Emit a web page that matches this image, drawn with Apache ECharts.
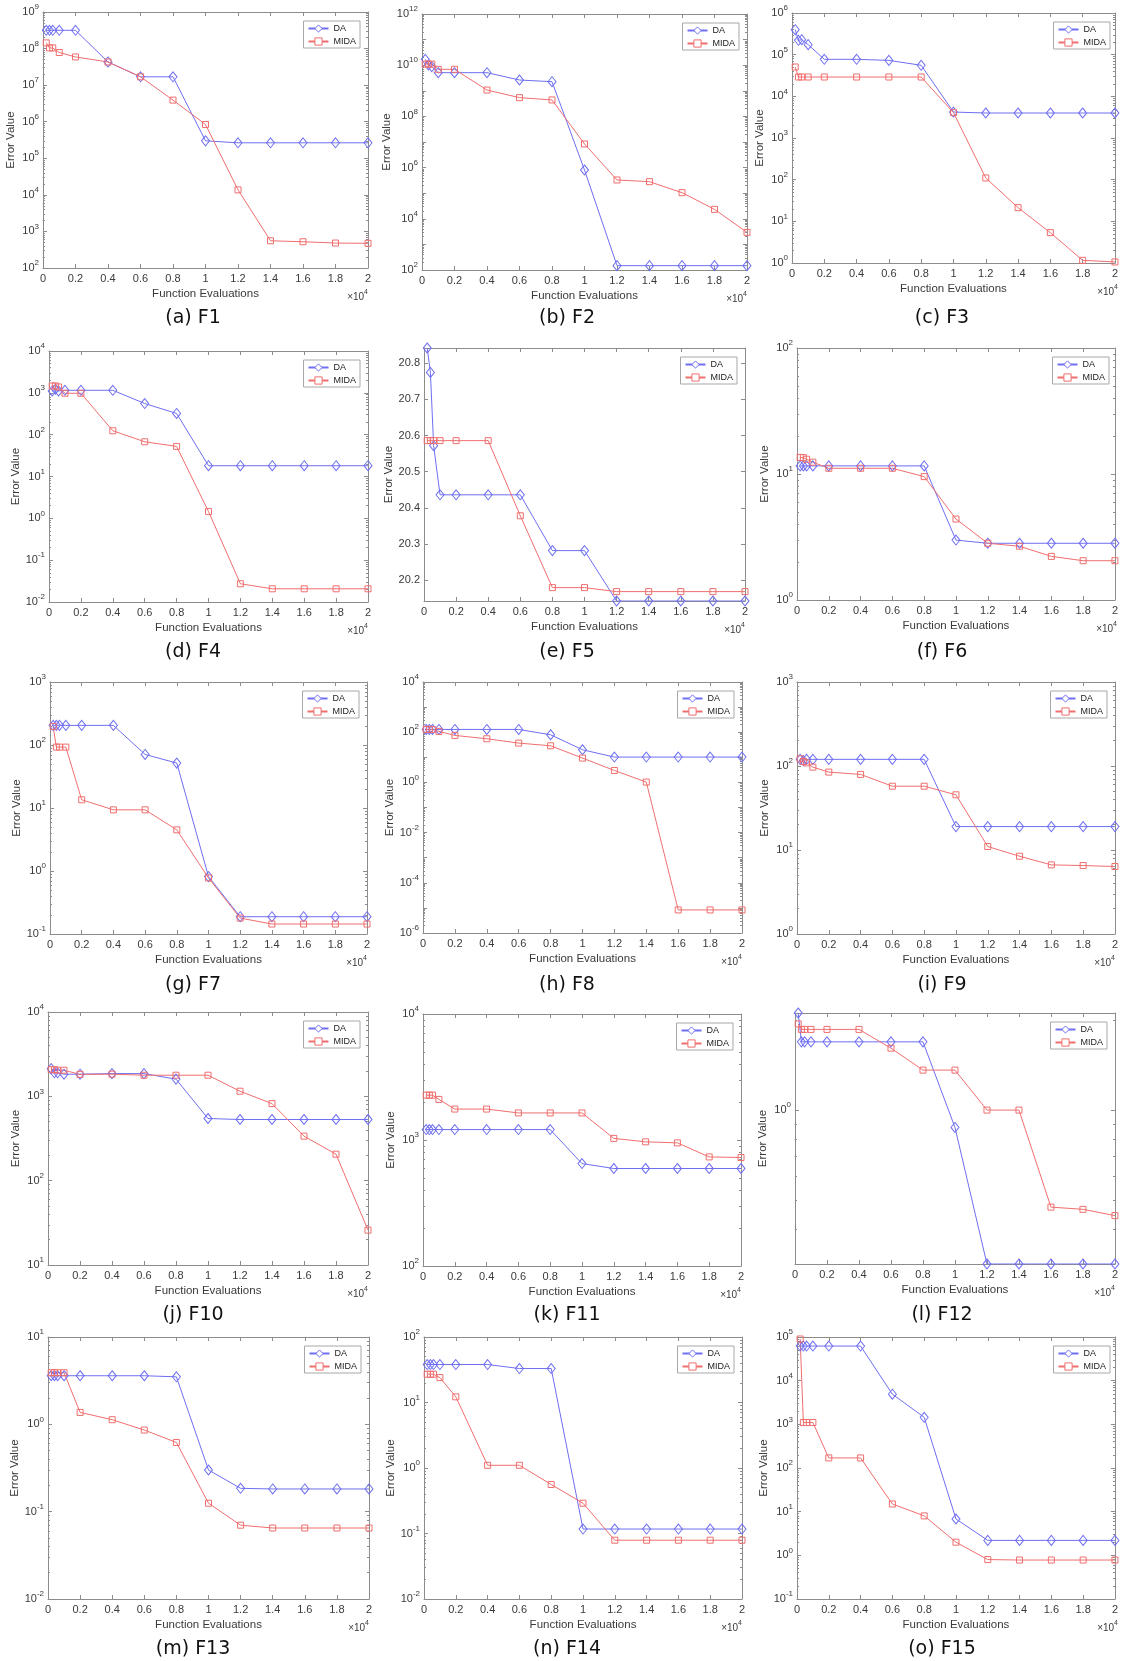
<!DOCTYPE html>
<html><head><meta charset="utf-8">
<script src="https://cdn.jsdelivr.net/npm/echarts@6/dist/echarts.min.js"></script>
<style>html,body{margin:0;padding:0;background:#fff}#c{width:1121px;height:1661px}</style>
</head><body><div id="c"></div>
<script>
// ---------------- data ----------------
const evaluations = [200,400,600,1000,2000,4000,6000,8000,10000,12000,14000,16000,18000,20000];
const seriesNames = ['DA','MIDA'];
const captions = ['(a) F1','(b) F2','(c) F3','(d) F4','(e) F5','(f) F6','(g) F7','(h) F8','(i) F9','(j) F10','(k) F11','(l) F12','(m) F13','(n) F14','(o) F15'];

const f1DA   = [3.16e8,3.16e8,3.16e8,3.16e8,3.16e8,4.3e7,1.69e7,1.69e7,3.0e5,2.65e5,2.65e5,2.65e5,2.65e5,2.65e5];
const f1MIDA = [1.43e8,1.04e8,1.04e8,7.8e7,5.9e7,4.3e7,1.69e7,3.9e6,8.4e5,1.37e4,556,522,481,473];
const f2DA   = [1.7e10,1.02e10,8.8e9,5.1e9,5.1e9,5.1e9,2.64e9,2.27e9,8.05e5,148,148,148,148,148];
const f2MIDA = [1.1e10,1.1e10,1.1e10,6.9e9,6.9e9,1.07e9,5.4e8,4.4e8,8.4e6,3.28e5,2.82e5,1.05e5,2.34e4,2.96e3];
const f3DA   = [3.98e5,2.21e5,2.29e5,1.74e5,7.73e4,7.73e4,7.3e4,5.55e4,4.2e3,3.98e3,3.98e3,3.98e3,3.98e3,3.98e3];
const f3MIDA = [5.06e4,2.91e4,2.91e4,2.91e4,2.91e4,2.91e4,2.91e4,2.91e4,4.06e3,110,21.3,5.35,1.16,1.06];
const f4DA   = [1110,1220,1110,1150,1150,1150,555,321,18.1,18.1,18.1,18.1,18.1,18.1];
const f4MIDA = [1460,1460,1380,977,977,124,67.6,52.4,1.45,0.0273,0.0207,0.0207,0.0207,0.0207];
const f5DA   = [20.8425,20.775,20.572,20.436,20.436,20.436,20.436,20.2815,20.2815,20.142,20.142,20.142,20.142,20.142];
const f5MIDA = [20.586,20.586,20.586,20.586,20.586,20.586,20.378,20.179,20.179,20.168,20.168,20.168,20.168,20.168];
const f6DA   = [11.6,11.6,11.6,11.6,11.6,11.6,11.6,11.6,2.99,2.82,2.82,2.82,2.82,2.82];
const f6MIDA = [13.55,13.5,13.1,12.4,11.1,11.1,11.1,9.53,4.39,2.82,2.67,2.22,2.05,2.05];
const f7DA   = [205,205,205,205,205,205,70.8,51.6,0.815,0.188,0.188,0.188,0.188,0.188];
const f7MIDA = [197,92.6,92.6,92.6,13.5,9.35,9.35,4.5,0.776,0.179,0.144,0.144,0.144,0.144];
const f8DA   = [129,129,129,129,129,129,129,79,20,10.2,10.2,10.2,10.2,10.2];
const f8MIDA = [129,129,129,108,74.5,54.8,36.8,28.8,9.3,2.99,1.03,8.3e-6,8.3e-6,8.3e-6];
const f9DA   = [120,116,120,120,120,120,120,120,19,19,19,19,19,19];
const f9MIDA = [122,113,109,97,84.6,79.4,57.5,57.5,45.4,11,8.43,6.65,6.53,6.36];
const f10DA   = [2130,1900,1900,1830,1830,1860,1860,1600,546,531,531,531,531,531];
const f10MIDA = [2070,2070,2040,2040,1820,1830,1780,1780,1780,1150,820,337,206,25.9];
const f11DA   = [1210,1210,1210,1210,1210,1210,1210,1210,650,594,594,594,594,594];
const f11MIDA = [2270,2270,2270,2100,1760,1760,1640,1640,1640,1030,967,949,734,726];
const f12DA   = [2.11,1.69,1.69,1.69,1.69,1.69,1.69,1.69,0.875,0.306,0.306,0.306,0.306,0.306];
const f12MIDA = [1.94,1.86,1.86,1.86,1.86,1.86,1.61,1.36,1.36,1.0,1.0,0.474,0.466,0.444];
const f13DA   = [3.6,3.6,3.6,3.6,3.6,3.6,3.6,3.5,0.3,0.185,0.182,0.182,0.182,0.182];
const f13MIDA = [3.9,3.9,3.9,3.9,1.37,1.13,0.86,0.62,0.125,0.07,0.065,0.065,0.065,0.065];
const f14DA   = [38,38,38,38,38,38,33,33,0.117,0.117,0.117,0.117,0.117,0.117];
const f14MIDA = [27,27,27,24,12.2,1.1,1.1,0.56,0.29,0.079,0.079,0.079,0.079,0.079];
const f15DA   = [6.2e4,6.2e4,6.2e4,6.2e4,6.2e4,6.2e4,4.9e3,1.45e3,6.8,2.2,2.2,2.2,2.2,2.2];
const f15MIDA = [9e4,1.1e3,1.1e3,1.1e3,170,170,15,8,2.0,0.8,0.78,0.78,0.78,0.78];

// y-axis decade ranges (exponents) and label step
const yExp = [[2,9,1],[2,12,2],[0,6,1],[-2,4,1],null,[0,2,1],[-1,3,1],[-6,4,2],[0,3,1],[1,4,1],[2,4,1],null,[-2,1,1],[-2,2,1],[-1,5,1]];
const xTickLabels = v => String(Math.round(v / 1000) / 10);

// ---------------- layout ----------------
const rects = [
  [43,12,368,268],[422,14,747,270],[792,13,1118,263],
  [49,351,368,602],[424,348,745,601],[797,348,1117,600],
  [50,682,367,934],[423,682,742,933],[797,682,1115,934],
  [48,1012,368,1265],[423,1014,741,1266],[795,1013,1115,1264],
  [48,1337,369,1599],[424,1337,742,1599],[797,1337,1118,1599]
];
const capX = [193,567,942];
const capY = [318,652,985,1315,1649];

const DAdata = [f1DA,f2DA,f3DA,f4DA,f5DA,f6DA,f7DA,f8DA,f9DA,f10DA,f11DA,f12DA,f13DA,f14DA,f15DA];
const MIDAdata = [f1MIDA,f2MIDA,f3MIDA,f4MIDA,f5MIDA,f6MIDA,f7MIDA,f8MIDA,f9MIDA,f10MIDA,f11MIDA,f12MIDA,f13MIDA,f14MIDA,f15MIDA];

const W = 1121;
const AX = '#8c8c8c', TX = '#3a3a3a', DA_C = '#6e6ef2', MIDA_C = '#f06e6e';
const FONT = 'Liberation Sans';

function logFmt(step){
  return v => {
    const e = Math.log10(v), r = Math.round(e);
    if (Math.abs(e - r) > 1e-6) return '';
    if (r % step !== 0) return '';
    return '{b|10}{e|' + r + '}';
  };
}
// log minor tick positions (2..9 x 10^k) inside [lo, hi]
function minorLog(lo, hi){
  const out = [];
  for (let k = Math.floor(Math.log10(lo)) - 1; k <= Math.ceil(Math.log10(hi)); k++) {
    for (let m = 2; m <= 9; m++) {
      const v = m * Math.pow(10, k);
      if (v > lo * 1.0001 && v < hi * 0.9999) out.push(v);
    }
  }
  return out;
}
const richLab = {
  b:{fontSize:11, color:TX, fontFamily:FONT, lineHeight:18},
  e:{fontSize:8, color:TX, fontFamily:FONT, lineHeight:9, verticalAlign:'top'}
};

const grid = [], xAxis = [], yAxis = [], series = [], legend = [], graphic = [];
rects.forEach((r, i) => {
  grid.push({left:r[0], top:r[1], width:r[2]-r[0], height:r[3]-r[1], containLabel:false});
  const xBase = {type:'value', gridIndex:i, min:0, max:20000, interval:2000,
    axisLine:{show:true, onZero:false, lineStyle:{color:AX, width:1}},
    axisTick:{show:true, inside:true, length:4, lineStyle:{color:AX}},
    splitLine:{show:false}};
  xAxis.push(Object.assign({}, xBase, {position:'bottom',
    name:'Function Evaluations', nameLocation:'middle', nameGap:20,
    nameTextStyle:{fontSize:11.5, color:TX, fontFamily:FONT},
    axisLabel:{formatter:xTickLabels, fontSize:11, color:TX, fontFamily:FONT, margin:5}}));
  xAxis.push(Object.assign({}, xBase, {position:'top', axisLabel:{show:false}}));

  let yBase, isLog = true;
  const all = DAdata[i].concat(MIDAdata[i]);
  if (i === 4) {
    isLog = false;
    yBase = {type:'value', min:Math.min(...all), max:Math.max(...all),
      axisLabel:{fontSize:11, color:TX, fontFamily:FONT,
        formatter: v => Math.abs(v*10 - Math.round(v*10)) < 1e-6 ? v.toFixed(1) : ''}};
  } else if (i === 11) {
    yBase = {type:'log', logBase:10, min:Math.min(...all), max:Math.max(...all),
      axisLabel:{formatter:logFmt(1), rich:richLab}};
  } else {
    const [a,b,s] = yExp[i];
    yBase = {type:'log', logBase:10, min:Math.pow(10,a), max:Math.pow(10,b), interval:1, splitNumber:b-a,
      axisLabel:{formatter:logFmt(s), rich:richLab}};
  }
  Object.assign(yBase, {gridIndex:i, offset:0, splitLine:{show:false}});
  const shown = {axisLine:{show:true, onZero:false, lineStyle:{color:AX, width:1}},
    axisTick:{show:true, inside:true, length:4, lineStyle:{color:AX}}};
  yAxis.push(Object.assign({}, yBase, shown, {position:'left', name:'Error Value', nameLocation:'middle', nameGap:26,
    nameTextStyle:{fontSize:11.5, color:TX, fontFamily:FONT},
    axisLabel:Object.assign({margin:4}, yBase.axisLabel)}));
  yAxis.push(Object.assign({}, yBase, shown, {position:'right', axisLabel:{show:false}}));
  if (isLog) {
    const mv = minorLog(yBase.min, yBase.max);
    ['left','right'].forEach(pos => {
      yAxis.push(Object.assign({}, yBase, {position:pos, offset:0,
        axisLine:{show:false, onZero:false}, axisLabel:{show:false},
        axisTick:{show:true, inside:true, length:2, customValues:mv, lineStyle:{color:AX}}}));
    });
  }

  const yi = yAxis.length - (isLog ? 4 : 2);
  const mk = (name, arr, sym, size, col) => ({
    type:'line', name, xAxisIndex:2*i, yAxisIndex:yi, color:col,
    data: evaluations.map((x,k) => [x, arr[k]]),
    symbol:sym, symbolSize:size, showSymbol:true, animation:false,
    lineStyle:{color:col, width:1},
    itemStyle:{color:'rgba(255,255,255,0)', borderColor:col, borderWidth:1},
    emphasis:{disabled:true}
  });
  series.push(mk('DA', DAdata[i], 'diamond', [8,10], DA_C));
  series.push(mk('MIDA', MIDAdata[i], 'rect', 6, MIDA_C));

  legend.push({data:seriesNames, orient:'vertical', right: W - r[2] + 8, top: r[1] + 9,
    itemWidth:20, itemHeight:9, itemGap:4, padding:[3,4,2,4], selectedMode:false,
    itemStyle:{color:'#fff', borderWidth:1},
    borderColor:'#a8a8a8', borderWidth:1, borderRadius:0, backgroundColor:'#fff',
    textStyle:{fontSize:9, color:'#222', fontFamily:FONT}});

  graphic.push({type:'text', x:r[2], y:r[3]+29, silent:true,
    style:{text:'{a|×10}{b|4}', align:'right', verticalAlign:'middle',
      rich:{a:{fontSize:10, fill:TX, fontFamily:FONT, lineHeight:16}, b:{fontSize:7, fill:TX, fontFamily:FONT, lineHeight:7, verticalAlign:'top'}}}});
  graphic.push({type:'text', x:capX[i%3], y:capY[Math.floor(i/3)], silent:true,
    style:{text:captions[i], fontSize:19, fontFamily:'DejaVu Sans', fill:'#111', align:'center', verticalAlign:'middle'}});
});

const chart = echarts.init(document.getElementById('c'), null, {renderer:'canvas'});
chart.setOption({backgroundColor:'#fff', animation:false, grid, xAxis, yAxis, series, legend, graphic});
</script></body></html>
